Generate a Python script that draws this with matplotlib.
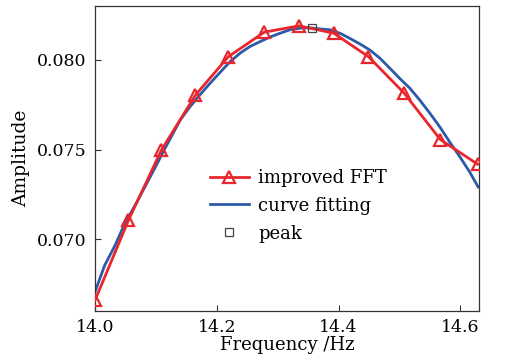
import matplotlib
matplotlib.use("Agg")
import matplotlib.pyplot as plt

# improved FFT estimates
fft_freq = [14.000, 14.055, 14.109, 14.165, 14.219, 14.278, 14.335, 14.392, 14.449, 14.507, 14.567, 14.628]
fft_amp = [0.06659, 0.07106, 0.07497, 0.07804, 0.08018, 0.08155, 0.08190, 0.08149, 0.08018, 0.07817, 0.07556, 0.07419]

# curve fitting result
fit_freq = [14.000, 14.016, 14.033, 14.049, 14.066, 14.082, 14.098, 14.115, 14.140, 14.156,
            14.172, 14.189, 14.205, 14.222, 14.238, 14.254, 14.271, 14.287, 14.304, 14.320,
            14.336, 14.353, 14.369, 14.386, 14.402, 14.418, 14.435, 14.451, 14.468, 14.484,
            14.500, 14.517, 14.533, 14.550, 14.566, 14.582, 14.599, 14.615, 14.629]
fit_amp = [0.06706, 0.06855, 0.06966, 0.07088, 0.07190, 0.07292, 0.07395, 0.07507, 0.07665, 0.07739,
           0.07804, 0.07870, 0.07929, 0.07991, 0.08037, 0.08074, 0.08102, 0.08127, 0.08149, 0.08168,
           0.08177, 0.08179, 0.08173, 0.08168, 0.08149, 0.08121, 0.08089, 0.08056, 0.08009, 0.07954,
           0.07898, 0.07842, 0.07777, 0.07702, 0.07627, 0.07544, 0.07460, 0.07376, 0.07292]

peak_freq = [14.356]
peak_amp = [0.08179]

plt.rcParams["font.family"] = ["DejaVu Serif"]
plt.rcParams["font.size"] = 13

fig = plt.figure(figsize=(5.05, 3.6), dpi=100)
ax = fig.add_axes([0.188, 0.136, 0.76, 0.847])

red = "#e8262d"
blue = "#2b5aa8"
ax.plot(fft_freq, fft_amp, color=red, lw=2.0, marker="^", markersize=8,
        mfc="none", mec=red, mew=1.6, label="improved FFT", zorder=3)
ax.plot(fit_freq, fit_amp, color=blue, lw=2.0, label="curve fitting", zorder=2)
ax.plot(peak_freq, peak_amp, ls="none", marker="s", markersize=6, mfc="none",
        mec="#444444", mew=0.9, label="peak", zorder=4)

ax.set_xlim(14.0, 14.63)
ax.set_ylim(0.0660, 0.0830)
ax.set_xticks([14.0, 14.2, 14.4, 14.6])
ax.set_yticks([0.070, 0.075, 0.080])
ax.set_xticklabels(["14.0", "14.2", "14.4", "14.6"])
ax.set_yticklabels(["0.070", "0.075", "0.080"])
ax.tick_params(direction="in", length=4, width=0.8, color="#333333", labelsize=12.5, pad=6)
for s in ax.spines.values():
    s.set_color("#333333")
    s.set_linewidth(0.9)

ax.set_xlabel("Frequency /Hz", fontsize=13, labelpad=0)
ax.set_ylabel("Amplitude", fontsize=13.5, labelpad=5)

ax.legend(loc="upper left", bbox_to_anchor=(0.28, 0.49), frameon=False,
          fontsize=13, handlelength=2.2, handletextpad=0.5, labelspacing=0.55,
          borderaxespad=0)

fig.savefig("out.png", dpi=100)
